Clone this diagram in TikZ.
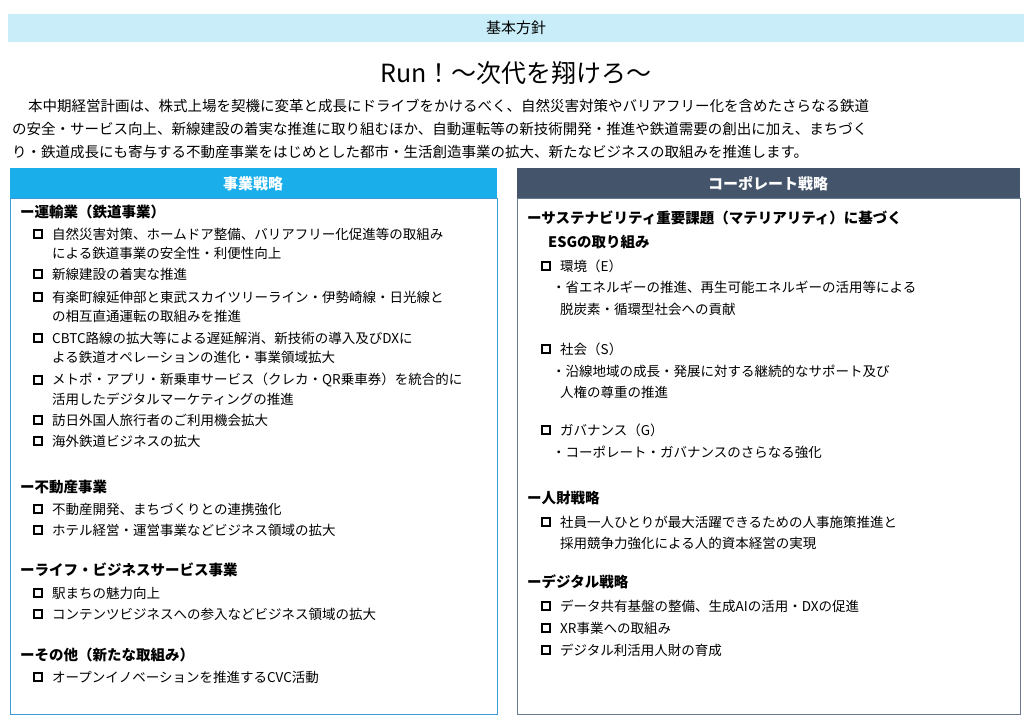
\documentclass[tikz,border=0pt]{standalone}
\usepackage{fontspec}
\setmainfont{Noto Sans CJK JP}
\definecolor{band}{HTML}{C9EEFA}
\definecolor{cyanh}{HTML}{1AAEEB}
\definecolor{slate}{HTML}{44546A}
\definecolor{lbord}{HTML}{3A9AD9}
\definecolor{rbord}{HTML}{6A7A90}
\begin{document}
\begin{tikzpicture}[x=1pt,y=-1pt,
  txt/.style={anchor=west,inner sep=0pt,font=\fontsize{13.5}{14}\selectfont},
  head/.style={anchor=west,inner sep=0pt,font=\fontsize{14.5}{15}\selectfont\bfseries},
  chk/.style={draw,line width=1.3pt,minimum size=8pt,inner sep=0pt,anchor=center}]
\useasboundingbox (0,0) rectangle (1033,724);
\fill[band] (8,14) rectangle (1024,42);
\node[font=\fontsize{15}{16}\selectfont] (band) at (516,28) {基本方針};
\node[font=\fontsize{25}{26}\selectfont] (title) at (516,73) {Run！～次代を翔けろ～};
\node[txt,font=\fontsize{14.5}{15}\selectfont] (p1) at (28,106) {本中期経営計画は、株式上場を契機に変革と成長にドライブをかけるべく、自然災害対策やバリアフリー化を含めたさらなる鉄道};
\node[txt,font=\fontsize{14.5}{15}\selectfont] (p2) at (12,129) {の安全・サービス向上、新線建設の着実な推進に取り組むほか、自動運転等の新技術開発・推進や鉄道需要の創出に加え、まちづく};
\node[txt,font=\fontsize{14.5}{15}\selectfont] (p3) at (12,152) {り・鉄道成長にも寄与する不動産事業をはじめとした都市・生活創造事業の拡大、新たなビジネスの取組みを推進します。};
% left
\fill[cyanh] (10,168) rectangle (497,198);
\node[white,font=\fontsize{15}{16}\selectfont\bfseries] (lh) at (253,184) {事業戦略};
\draw[lbord,line width=1pt] (10,198) rectangle (497,714);
% right
\fill[slate] (517,168) rectangle (1020,198);
\node[white,font=\fontsize{15}{16}\selectfont\bfseries] (rh) at (768,184) {コーポレート戦略};
\draw[rbord,line width=1pt] (517,198) rectangle (1020,714);
% left content
\node[head] (h1) at (20,212) {ー運輸業（鉄道事業）};
\foreach \y/\t in {234/{自然災害対策、ホームドア整備、バリアフリー化促進等の取組み},274/{新線建設の着実な推進},297/{有楽町線延伸部と東武スカイツリーライン・伊勢崎線・日光線と},338/{CBTC路線の拡大等による遅延解消、新技術の導入及びDXに},380/{メトポ・アプリ・新乗車サービス（クレカ・QR乗車券）を統合的に},420/{訪日外国人旅行者のご利用機会拡大},441/{海外鉄道ビジネスの拡大},509/{不動産開発、まちづくりとの連携強化},530/{ホテル経営・運営事業などビジネス領域の拡大},593/{駅まちの魅力向上},614/{コンテンツビジネスへの参入などビジネス領域の拡大},677/{オープンイノベーションを推進するCVC活動}}
{\node[chk] at (38,\y) {}; \node[txt] at (52,\y) {\t};}
\foreach \y/\t in {253/{による鉄道事業の安全性・利便性向上},316/{の相互直通運転の取組みを推進},357/{よる鉄道オペレーションの進化・事業領域拡大},399/{活用したデジタルマーケティングの推進}}
{\node[txt] at (52,\y) {\t};}
\node[head] (h2) at (20,487) {ー不動産事業};
\node[head] (h3) at (20,570) {ーライフ・ビジネスサービス事業};
\node[head] (h4) at (20,655) {ーその他（新たな取組み）};
% right content
\node[head] (r1) at (527,218) {ーサステナビリティ重要課題（マテリアリティ）に基づく};
\node[head] (r1b) at (548,242) {ESGの取り組み};
\foreach \y/\t in {266/{環境（E）},349/{社会（S）},430/{ガバナンス（G）},522/{社員一人ひとりが最大活躍できるための人事施策推進と},606/{データ共有基盤の整備、生成AIの活用・DXの促進},628/{XR事業への取組み},650/{デジタル利活用人財の育成}}
{\node[chk] at (546,\y) {}; \node[txt] at (560,\y) {\t};}
\foreach \y/\x/\t in {287/552/{・省エネルギーの推進、再生可能エネルギーの活用等による},309/560/{脱炭素・循環型社会への貢献},371/552/{・沿線地域の成長・発展に対する継続的なサポート及び},392/560/{人権の尊重の推進},452/552/{・コーポレート・ガバナンスのさらなる強化},543/560/{採用競争力強化による人的資本経営の実現}}
{\node[txt] at (\x,\y) {\t};}
\node[head] (r2) at (527,498) {ー人財戦略};
\node[head] (r3) at (527,582) {ーデジタル戦略};
\end{tikzpicture}
\end{document}
